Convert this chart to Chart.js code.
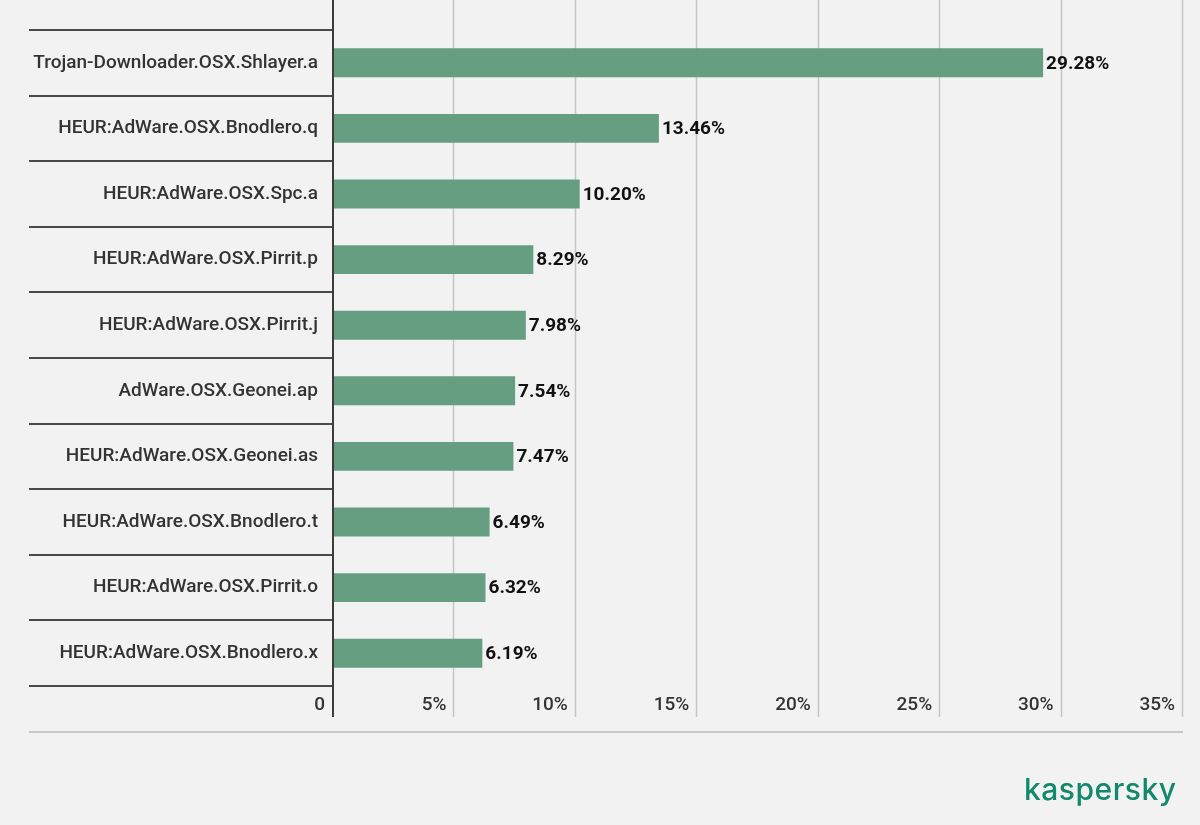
<!DOCTYPE html>
<html>
<head>
<meta charset="utf-8">
<script src="https://cdn.jsdelivr.net/npm/chart.js@4.4.0/dist/chart.umd.min.js"></script>
<style>
    html, body { margin: 0; padding: 0; background: #f2f2f2; }
    #wrap { position: relative; width: 1200px; height: 825px; }
    #logo {
        position: absolute; left: 1024px; top: 771px;
        font-family: Inter, sans-serif; font-weight: 500; font-size: 30px;
        letter-spacing: 0.5px; color: #12896b;
    }
</style>
</head>
<body>
<div id="wrap">
    <canvas id="chart" width="1200" height="825"></canvas>
    <div id="logo">kaspersky</div>
</div>
<script>
const categories = [
    'Trojan-Downloader.OSX.Shlayer.a',
    'HEUR:AdWare.OSX.Bnodlero.q',
    'HEUR:AdWare.OSX.Spc.a',
    'HEUR:AdWare.OSX.Pirrit.p',
    'HEUR:AdWare.OSX.Pirrit.j',
    'AdWare.OSX.Geonei.ap',
    'HEUR:AdWare.OSX.Geonei.as',
    'HEUR:AdWare.OSX.Bnodlero.t',
    'HEUR:AdWare.OSX.Pirrit.o',
    'HEUR:AdWare.OSX.Bnodlero.x',
];
const shares = [29.28, 13.46, 10.20, 8.29, 7.98, 7.54, 7.47, 6.49, 6.32, 6.19];
const xTicks = [0, 5, 10, 15, 20, 25, 30, 35];

// grid lines, row separators and the zero axis
const framePlugin = {
    id: 'frame',
    beforeDatasetsDraw(chart) {
        const { ctx, chartArea, scales } = chart;
        const x = scales.x;
        const y = scales.y;
        const top = 0;
        const bottom = chartArea.bottom + 31;
        ctx.save();

        ctx.strokeStyle = '#c6c6c6';
        ctx.lineWidth = 1.5;
        xTicks.slice(1).forEach(v => {
            const px = Math.round(x.getPixelForValue(v)) + 0.5;
            ctx.beginPath();
            ctx.moveTo(px, top);
            ctx.lineTo(px, bottom);
            ctx.stroke();
        });

        const rowH = y.getPixelForValue(1) - y.getPixelForValue(0);
        ctx.strokeStyle = '#4a4a4a';
        ctx.lineWidth = 2;
        for (let i = 0; i <= categories.length; i++) {
            const py = Math.round(y.getPixelForValue(0) - rowH / 2 + i * rowH);
            ctx.beginPath();
            ctx.moveTo(29, py);
            ctx.lineTo(chartArea.left, py);
            ctx.stroke();
        }

        ctx.strokeStyle = '#c8c8c8';
        ctx.beginPath();
        ctx.moveTo(29, chartArea.bottom + 46);
        ctx.lineTo(x.getPixelForValue(35) + 1, chartArea.bottom + 46);
        ctx.stroke();
        ctx.restore();
    },
    afterDatasetsDraw(chart) {
        const { ctx, chartArea } = chart;
        ctx.save();
        ctx.strokeStyle = '#3c3c3c';
        ctx.lineWidth = 2;
        ctx.beginPath();
        ctx.moveTo(chartArea.left + 1, 0);
        ctx.lineTo(chartArea.left + 1, chartArea.bottom + 31);
        ctx.stroke();

        // value labels
        ctx.fillStyle = '#111';
        ctx.font = 'bold 19px Roboto';
        ctx.textAlign = 'left';
        ctx.textBaseline = 'middle';
        chart.getDatasetMeta(0).data.forEach((bar, i) => {
            ctx.fillText(shares[i].toFixed(2) + '%', bar.x + 3, bar.y + 1);
        });
        ctx.restore();
    }
};

new Chart(document.getElementById('chart'), {
    type: 'bar',
    data: {
        labels: categories,
        datasets: [{
            data: shares,
            backgroundColor: '#669e81',
            borderWidth: 0,
            barPercentage: 0.44,
            categoryPercentage: 1,
        }],
    },
    options: {
        indexAxis: 'y',
        responsive: false,
        animation: false,
        devicePixelRatio: 1,
        layout: { padding: { top: 30, right: 18, left: 0, bottom: 0 } },
        plugins: { legend: { display: false }, tooltip: { enabled: false } },
        scales: {
            x: {
                min: 0,
                max: 35,
                border: { display: false },
                grid: { display: false, drawTicks: false },
                ticks: {
                    stepSize: 5,
                    align: 'end',
                    labelOffset: -7,
                    padding: 8,
                    color: '#333',
                    font: { family: 'Roboto', size: 19, weight: 500 },
                    callback: v => v === 0 ? '0' : v + '%',
                },
                afterFit(scale) { scale.height = 139; },
            },
            y: {
                border: { display: false },
                grid: { display: false, drawTicks: false },
                ticks: {
                    padding: 14,
                    color: '#333',
                    font: { family: 'Roboto', size: 19, weight: 500 },
                },
                afterFit(scale) { scale.width = 332; },
            },
        },
    },
    plugins: [framePlugin],
});
</script>
</body>
</html>
